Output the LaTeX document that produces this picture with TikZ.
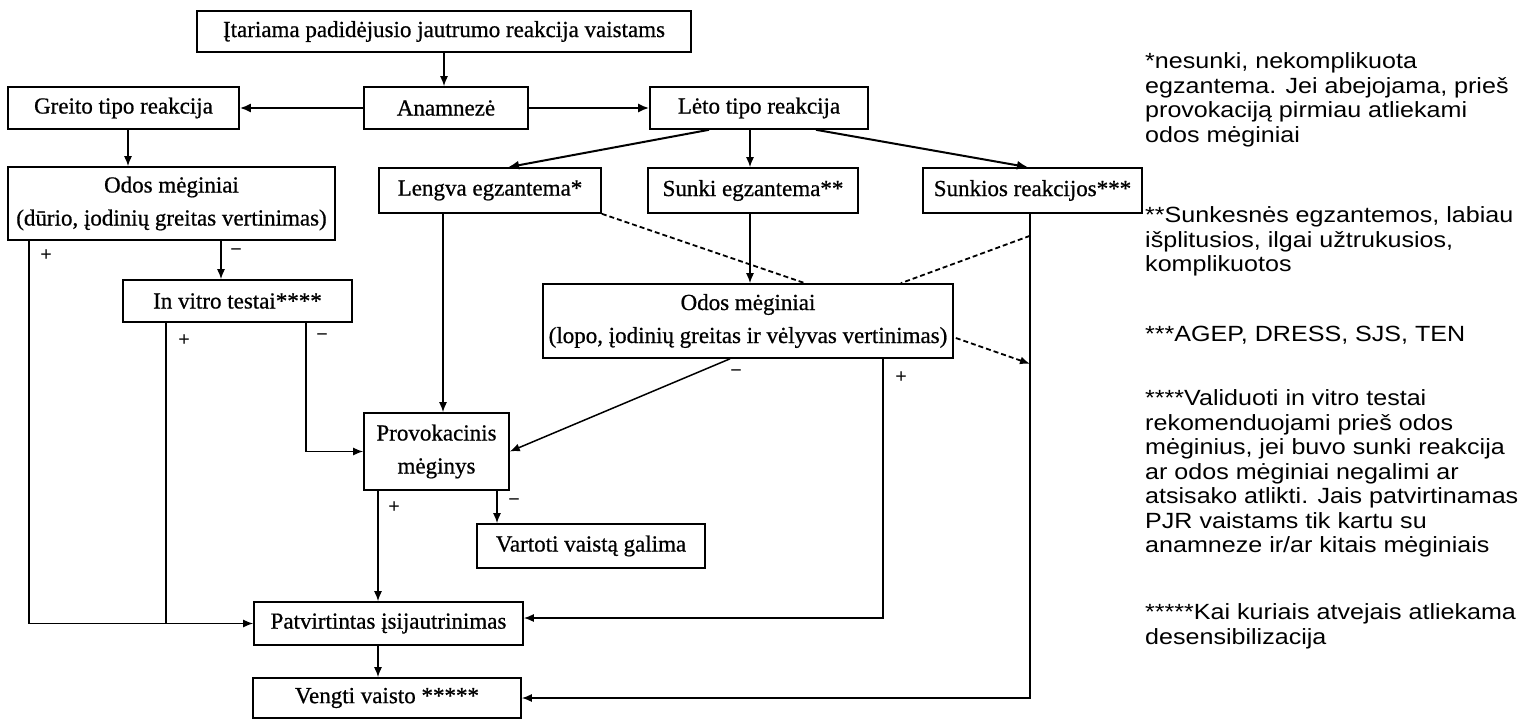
\documentclass[tikz,border=0pt]{standalone}
\usepackage{fontspec}
\setmainfont[FakeBold=0.7]{Liberation Serif}
\newfontfamily\notefont[FakeStretch=1.14]{Liberation Sans}
\usetikzlibrary{arrows.meta,calc}
\tikzset{
  box/.style={draw, line width=1.6pt, inner sep=0pt, align=center,
    font=\fontsize{23}{33}\selectfont},
  con/.style={line width=1.5pt, -{Latex[length=10pt,width=8pt]}},
  bcon/.style={line width=2pt, -{Latex[length=11pt,width=9pt]}},
  ln/.style={line width=1.5pt},
  dsh/.style={line width=1.8pt, dash pattern=on 5pt off 3pt},
  dcon/.style={dsh, -{Latex[length=10pt,width=8pt]}},
  sgn/.style={font=\fontsize{20}{20}\selectfont, inner sep=0pt},
  note/.style={font=\notefont\fontsize{22}{24.5}\selectfont, anchor=north west,
    align=left, inner sep=0pt}
}
\begin{document}
\begin{tikzpicture}[x=1pt,y=-1pt]
\useasboundingbox (0,0) rectangle (1523,720);
% boxes
\node[box, minimum width=494pt, minimum height=41pt] (top) at (444,31.5) {Įtariama padidėjusio jautrumo reakcija vaistams};
\node[box, minimum width=164pt, minimum height=42pt] (anam) at (446,108) {Anamnezė};
\node[box, minimum width=231pt, minimum height=42pt] (greito) at (123.5,108) {Greito tipo reakcija};
\node[box, minimum width=218pt, minimum height=42pt] (leto) at (759,108) {Lėto tipo reakcija};
\node[box, minimum width=327pt, minimum height=73pt] (odos1) at (171.5,203.5) {Odos mėginiai\\(dūrio, įodinių greitas vertinimas)};
\node[box, minimum width=222pt, minimum height=45pt] (lengva) at (490,190.5) {Lengva egzantema*};
\node[box, minimum width=210pt, minimum height=45pt] (sunki) at (753,190.5) {Sunki egzantema**};
\node[box, minimum width=219pt, minimum height=45pt] (sunkios) at (1032.5,190.5) {Sunkios reakcijos***};
\node[box, minimum width=229pt, minimum height=42pt] (invitro) at (237.5,301) {In vitro testai****};
\node[box, minimum width=410pt, minimum height=74pt] (odos2) at (748,321) {Odos mėginiai\\(lopo, įodinių greitas ir vėlyvas vertinimas)};
\node[box, minimum width=145pt, minimum height=77pt] (provo) at (436.5,451.5) {Provokacinis\\mėginys};
\node[box, minimum width=228pt, minimum height=44pt] (vartoti) at (591,546) {Vartoti vaistą galima};
\node[box, minimum width=269pt, minimum height=43pt] (patv) at (388.5,623.5) {Patvirtintas įsijautrinimas};
\node[box, minimum width=268pt, minimum height=40pt] (vengti) at (387,698) {Vengti vaisto *****};
% helper points
\coordinate (g1) at ($(greito.south)+(4.5,0)$);
\coordinate (l2) at ($(leto.south)+(-9,0)$);
\coordinate (o1) at ($(odos1.south)+(49.5,0)$);
\coordinate (o1l) at ($(odos1.south west)+(22,0)$);
\coordinate (ivp) at ($(invitro.south west)+(44,0)$);
\coordinate (ivm) at ($(invitro.south east)+(-47,0)$);
\coordinate (lg) at ($(lengva.south)+(-47,0)$);
\coordinate (sk) at ($(sunki.south)+(-3,0)$);
\coordinate (vl) at ($(sunkios.south)+(-2.5,0)$);
\coordinate (o2p) at ($(odos2.south)+(135,0)$);
\coordinate (pp) at ($(provo.south)+(-58.5,0)$);
\coordinate (pm) at ($(provo.south)+(60.5,0)$);
\coordinate (pv) at ($(patv.south)+(-10.5,0)$);
% connectors
\draw[con] (top.south) -- (top.south |- anam.north);
\draw[bcon] (anam.west) -- (greito.east);
\draw[bcon] (anam.east) -- (leto.west);
\draw[con] (g1) -- (g1 |- odos1.north);
\draw[bcon] ($(leto.south)+(-50,0)$) -- ($(lengva.north)+(18,0)$);
\draw[con] (l2) -- (l2 |- sunki.north);
\draw[bcon] ($(leto.south)+(57,0)$) -- ($(sunkios.north)+(-4.5,0)$);
\draw[con] (o1) -- (o1 |- invitro.north);
\draw[con] (o1l) |- (patv.west);
\draw[ln] (ivp) -- (ivp |- patv.west);
\draw[con] (ivm) |- (provo.west);
\draw[con] (lg) -- (lg |- provo.north);
\draw[dsh] (lengva.south east) -- ($(odos2.north)+(57,0)$);
\draw[con] (sk) -- (sk |- odos2.north);
\draw[con] (vl) |- (vengti.east);
\draw[dsh] ($(vl)+(0,22)$) -- ($(odos2.north east)+(-53,0)$);
\draw[dcon] ($(odos2.east)+(2,17)$) -- ($(vl)+(0,150)$);
\draw[con] ($(odos2.south)+(-18,0)$) -- (provo.east);
\draw[con] (o2p) |- ($(patv.east)+(0,-5.5)$);
\draw[con] (pp) -- (pp |- patv.north);
\draw[con] (pm) -- (pm |- vartoti.north);
\draw[con] (pv) -- (pv |- vengti.north);
% signs
\node[sgn] (s1) at (236,252) {−};
\node[sgn] (s2) at (46,255) {+};
\node[sgn] (s3) at (184,340) {+};
\node[sgn] (s4) at (322,337) {−};
\node[sgn] (s5) at (736,373) {−};
\node[sgn] (s6) at (901,377) {+};
\node[sgn] (s7) at (394,507) {+};
\node[sgn] (s8) at (514,502) {−};
% notes
\node[note] (n1) at (1145,52.7) {*nesunki, nekomplikuota\\egzantema. Jei abejojama, prieš\\provokaciją pirmiau atliekami\\odos mėginiai};
\node[note] (n2) at (1145,206.7) {**Sunkesnės egzantemos, labiau\\išplitusios, ilgai užtrukusios,\\komplikuotos};
\node[note] (n3) at (1145,325.7) {***AGEP, DRESS, SJS, TEN};
\node[note] (n4) at (1145,389.7) {****Validuoti in vitro testai\\rekomenduojami prieš odos\\mėginius, jei buvo sunki reakcija\\ar odos mėginiai negalimi ar\\atsisako atlikti. Jais patvirtinamas\\PJR vaistams tik kartu su\\anamneze ir/ar kitais mėginiais};
\node[note] (n5) at (1145,603.7) {*****Kai kuriais atvejais atliekama\\desensibilizacija};
\end{tikzpicture}
\end{document}
